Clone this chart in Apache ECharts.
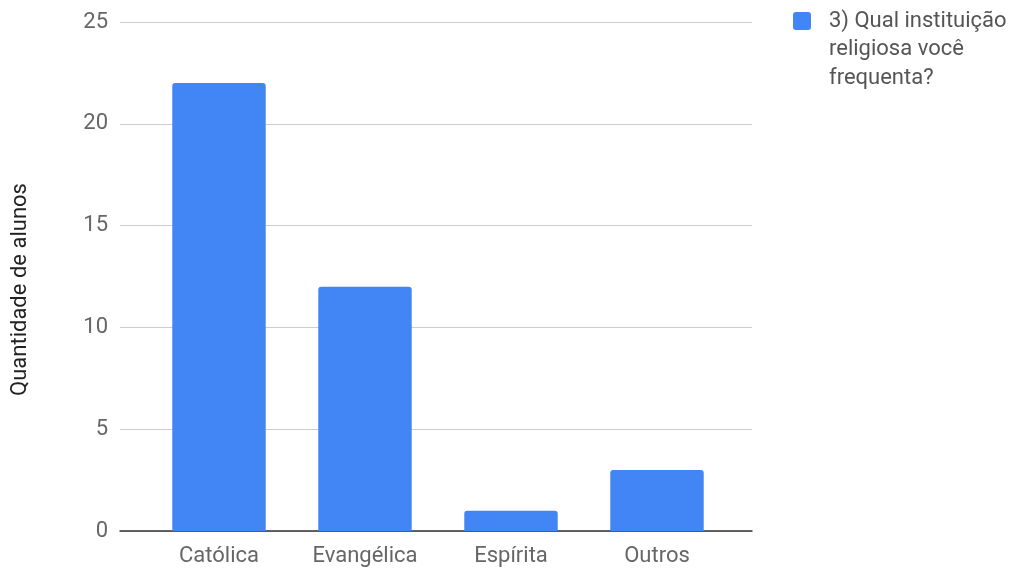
<!DOCTYPE html>
<html>
<head>
<meta charset="utf-8">
<script src="https://cdn.jsdelivr.net/npm/echarts@6/dist/echarts.min.js"></script>
<style>
html,body{margin:0;padding:0;background:#fff;}
#c{width:1022px;height:572px;}
</style>
</head>
<body>
<div id="c"></div>
<script>
const categories = ['Católica', 'Evangélica', 'Espírita', 'Outros'];
const values = [22, 12, 1, 3];
const yTicks = [0, 5, 10, 15, 20, 25];
const seriesName = '3) Qual instituição\nreligiosa você\nfrequenta?';
const yTitle = 'Quantidade de alunos';

const FONT = 'Roboto';
const FS = 22;
const legendIcon = 'path://M0,0h0.01v0.01h-0.01z M3,12h12q3,0 3,3v12q0,3 -3,3h-12q-3,0 -3,-3v-12q0,-3 3,-3z M30.99,98.99h0.01v0.01h-0.01z';
const chart = echarts.init(document.getElementById('c'));
chart.setOption({
  animation: false,
  textStyle: { fontFamily: FONT },
  grid: [
    { left: 120, right: 270, top: 22, bottom: 41, containLabel: false, outerBoundsMode: 'none' },
    { left: 146, right: 292, top: 22, bottom: 41, containLabel: false, outerBoundsMode: 'none' }
  ],
  xAxis: [
    { type: 'value', gridIndex: 0, min: 0, max: 1, show: true,
      axisLine: { show: true, onZero: false, lineStyle: { color: '#333', width: 1.5 } },
      axisTick: { show: false }, axisLabel: { show: false }, splitLine: { show: false } },
    { type: 'category', gridIndex: 1, data: categories,
      axisLine: { show: false }, axisTick: { show: false },
      axisLabel: { color: '#666', fontSize: FS, margin: 14, fontFamily: FONT } }
  ],
  yAxis: [
    { type: 'value', gridIndex: 0, min: yTicks[0], max: yTicks[yTicks.length - 1], interval: 5,
      name: yTitle, nameLocation: 'middle', nameGap: 89, nameRotate: 90,
      nameTextStyle: { color: '#222', fontSize: FS, fontFamily: FONT, padding: [0, 26, 0, 0] },
      axisLine: { show: false }, axisTick: { show: false },
      axisLabel: { color: '#666', fontSize: FS, margin: 12, fontFamily: FONT },
      splitLine: { lineStyle: { color: '#ccc', width: 1 } } },
    { type: 'value', gridIndex: 1, min: yTicks[0], max: yTicks[yTicks.length - 1], interval: 5,
      show: false, splitLine: { show: false } }
  ],
  legend: {
    left: 793, top: 0, padding: 0, orient: 'vertical',
    icon: legendIcon, itemWidth: 31, itemHeight: 99,
    textStyle: { color: '#555', fontSize: FS, lineHeight: 28.5, fontFamily: FONT },
    data: [seriesName]
  },
  series: [{
    name: seriesName, type: 'bar', xAxisIndex: 1, yAxisIndex: 1,
    data: values, barCategoryGap: '36%',
    itemStyle: { color: '#4285F4', borderRadius: [3, 3, 0, 0] },
    z: 3
  }]
});
</script>
</body>
</html>
